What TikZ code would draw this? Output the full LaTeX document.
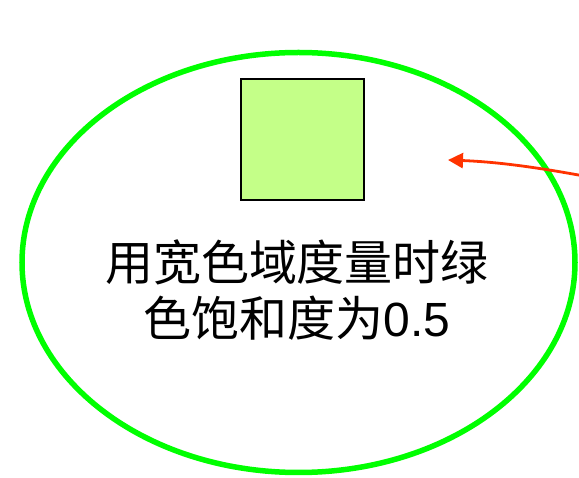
\documentclass[tikz,border=0pt]{standalone}
\usepackage{fontspec}
\setmainfont{Noto Sans CJK SC}
\newfontfamily\latinsans{Liberation Sans}
\usetikzlibrary{shapes.geometric,arrows.meta}
\definecolor{ringgreen}{RGB}{0,255,0}
\definecolor{swatch}{RGB}{196,255,136}
\definecolor{arrowred}{RGB}{255,51,0}
\begin{document}
\begin{tikzpicture}[x=1pt,y=-1pt,
  ring/.style={ellipse,draw=ringgreen,line width=5.5pt,inner sep=0pt,minimum width=553pt,minimum height=420pt},
  swatchbox/.style={draw=black,line width=1.3pt,fill=swatch,inner sep=0pt,minimum width=123pt,minimum height=121pt},
  label/.style={align=center,font=\fontsize{48}{56}\selectfont,inner sep=0pt},
  pointer/.style={draw=arrowred,line width=2.8pt,-{Triangle[length=15pt,width=15pt]}}]
\useasboundingbox (0,0) rectangle (579,478);
\node[ring] (ring) at (298.5,262.5) {};
\node[swatchbox] (sq) at (302.5,139.5) {};
\node[label] (txt) at (297,290) {用宽色域度量时绿\\色饱和度为{\latinsans 0.5}};
\coordinate (src) at (584,176);
\coordinate (tip) at (448,160);
\draw[pointer] (src) .. controls (540,168) and (500,162) .. (tip);
\end{tikzpicture}
\end{document}
